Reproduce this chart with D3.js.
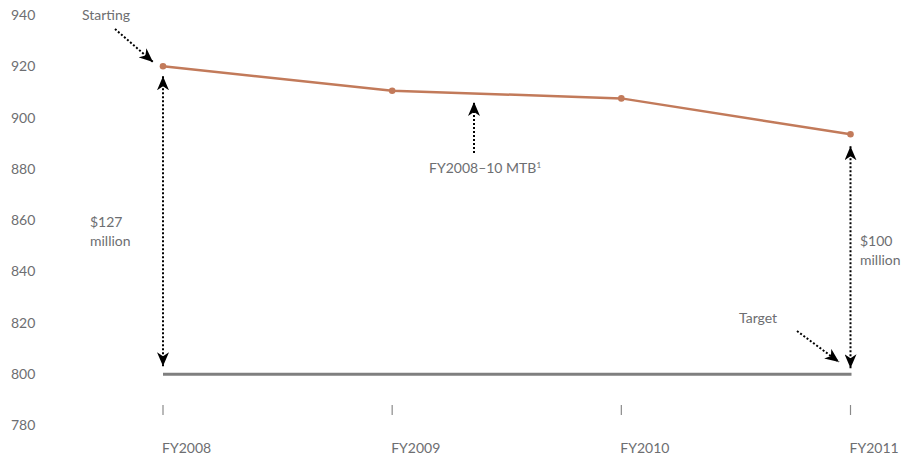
<!DOCTYPE html>
<html><head><meta charset="utf-8">
<script src="https://cdn.jsdelivr.net/npm/d3@7"></script>
<style>
body{margin:0;background:#fff;}
text{font-family:Lato,"Open Sans",sans-serif;fill:#6d6e71;font-size:14px;}
</style></head>
<body><svg id="c" width="908" height="459"></svg>
<script>
const categories = ["FY2008","FY2009","FY2010","FY2011"];
const mtbValues = [920, 910.5, 907.5, 893.5];
const targetValue = 800;
const yTicks = [780,800,820,840,860,880,900,920,940];

const svg = d3.select("#c");
const x = d3.scalePoint().domain(categories).range([163, 850.5]);
const y = d3.scaleLinear().domain([780, 940]).range([425.5, 15]);

// y labels
svg.append("g").selectAll("text").data(yTicks).join("text")
  .attr("x", 11).attr("y", d => y(d)).attr("dy", "0.35em").text(d => d);

// x axis ticks and labels
const xa = svg.append("g");
xa.selectAll("line").data(categories).join("line")
  .attr("x1", d => x(d)).attr("x2", d => x(d)).attr("y1", 405).attr("y2", 415)
  .attr("stroke", "#8a8a8a").attr("stroke-width", 1.2);
xa.selectAll("text").data(categories).join("text")
  .attr("x", d => x(d) - 1).attr("y", 448).attr("dy", "0.35em").text(d => d);

// target line
svg.append("line").attr("x1", x(categories[0])).attr("x2", x(categories[3]) + 1)
  .attr("y1", y(targetValue)).attr("y2", y(targetValue))
  .attr("stroke", "#7f7f7f").attr("stroke-width", 3);

// MTB line
const line = d3.line().x((d,i) => x(categories[i])).y(d => y(d));
svg.append("path").datum(mtbValues).attr("d", line)
  .attr("fill", "none").attr("stroke", "#c27a5a").attr("stroke-width", 2.5);
svg.append("g").selectAll("circle").data(mtbValues).join("circle")
  .attr("cx", (d,i) => x(categories[i])).attr("cy", d => y(d)).attr("r", 3.3)
  .attr("fill", "#c27a5a");

// arrow marker
const defs = svg.append("defs");
defs.append("marker").attr("id","ah").attr("viewBox","0 0 14 12")
  .attr("refX", 14).attr("refY", 6).attr("markerWidth", 14).attr("markerHeight", 12)
  .attr("markerUnits","userSpaceOnUse").attr("orient","auto-start-reverse")
  .append("path").attr("d","M0,0 L14,6 L0,12 L4,6 Z").attr("fill","#000");

function arrow(x1,y1,x2,y2,both){
  const l = svg.append("line").attr("x1",x1).attr("y1",y1).attr("x2",x2).attr("y2",y2)
    .attr("stroke","#000").attr("stroke-width",2).attr("stroke-dasharray","2,2")
    .attr("marker-end","url(#ah)");
  if(both) l.attr("marker-start","url(#ah)");
}
const x0 = x(categories[0]), x3 = x(categories[3]);
arrow(x0, y(mtbValues[0]) + 10, x0, y(targetValue) - 8, true);
arrow(x3, y(mtbValues[3]) + 12, x3, y(targetValue) - 6, true);
arrow(115, 29, 153, 62, false);
arrow(474, 153, 474, 102, false);
arrow(797, 331, 839, 362, false);

// annotations
svg.append("text").attr("x", 82).attr("y", 15).attr("dy","0.35em").text("Starting");
const mt = svg.append("text").attr("x", 429).attr("y", 168).attr("dy","0.35em");
mt.append("tspan").text("FY2008–10 MTB");
mt.append("tspan").attr("font-size", 8).attr("dy", "-0.6em").text("1");
svg.append("text").attr("x", 90).attr("y", 222).attr("dy","0.35em").text("$127");
svg.append("text").attr("x", 90).attr("y", 241).attr("dy","0.35em").text("million");
svg.append("text").attr("x", 860).attr("y", 241).attr("dy","0.35em").text("$100");
svg.append("text").attr("x", 860).attr("y", 260).attr("dy","0.35em").text("million");
svg.append("text").attr("x", 739).attr("y", 318).attr("dy","0.35em").text("Target");
</script></body></html>
